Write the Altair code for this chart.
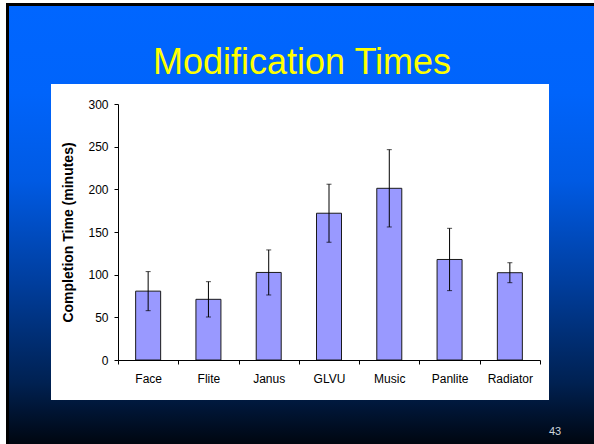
import altair as alt
import pandas as pd

# ---- data ----
programs = ["Face", "Flite", "Janus", "GLVU", "Music", "Panlite", "Radiator"]
means = [80.7, 71.1, 102.6, 172, 201.2, 117.8, 102.3]
errors = [22.9, 20.7, 26.4, 34, 45.3, 36.5, 11.7]
y_ticks = [0, 50, 100, 150, 200, 250, 300]
title_text = "Modification Times"
y_title = "Completion Time (minutes)"
slide_number = "43"

df = pd.DataFrame({
    "program": programs,
    "mean": means,
    "low": [m - e for m, e in zip(means, errors)],
    "high": [m + e for m, e in zip(means, errors)],
})

FONT = "Liberation Sans, Arial, sans-serif"
one = pd.DataFrame({"k": [0]})

# ---- slide decoration (pixel positions relative to plot origin) ----
frame = alt.Chart(one).mark_rect(fill="#000000").encode(
    x=alt.value(-112), x2=alt.value(476), y=alt.value(-101), y2=alt.value(340)
)
grad = alt.LinearGradient(
    gradient="linear",
    stops=[
        alt.GradientStop(color="#0066ff", offset=0),
        alt.GradientStop(color="#0064fb", offset=0.2),
        alt.GradientStop(color="#005ae3", offset=0.4),
        alt.GradientStop(color="#003e9e", offset=0.63),
        alt.GradientStop(color="#002152", offset=0.86),
        alt.GradientStop(color="#000610", offset=1),
    ],
    x1=0, x2=0, y1=0, y2=1,
)
slide = alt.Chart(one).mark_rect(fill=grad).encode(
    x=alt.value(-109), x2=alt.value(476), y=alt.value(-98), y2=alt.value(340)
)
panel = alt.Chart(one).mark_rect(fill="#ffffff").encode(
    x=alt.value(-67), x2=alt.value(431), y=alt.value(-20), y2=alt.value(296)
)
title = alt.Chart(pd.DataFrame({"t": [title_text]})).mark_text(
    font=FONT, fontSize=36, color="#ffff00", align="center", baseline="alphabetic"
).encode(x=alt.value(184), y=alt.value(-30), text="t:N")
num = alt.Chart(pd.DataFrame({"t": [slide_number]})).mark_text(
    font=FONT, fontSize=11, color="#d0d4dc", align="center", baseline="alphabetic"
).encode(x=alt.value(437), y=alt.value(331), text="t:N")

# ---- chart ----
xenc = alt.X(
    "program:N", sort=programs,
    scale=alt.Scale(paddingInner=0, paddingOuter=0),
    axis=alt.Axis(title=None, labelAngle=0, tickBand="extent", tickSize=4,
                  labelPadding=9, labelFontSize=12, labelFont=FONT,
                  labelColor="#000000", domainColor="#000000", tickColor="#000000",
                  zindex=2),
)
yscale = alt.Scale(domain=[0, 300], nice=False)

bars = alt.Chart(df).mark_bar(size=25, fill="#9999ff", stroke="#1a1a1a", strokeWidth=1).encode(
    x=xenc,
    y=alt.Y("mean:Q", scale=yscale,
            axis=alt.Axis(values=y_ticks, grid=False, tickSize=4, labelPadding=6,
                          labelFontSize=12, labelFont=FONT, labelColor="#000000",
                          domainColor="#000000", tickColor="#000000",
                          title=y_title, titleFont=FONT, titleFontSize=14,
                          titleFontWeight="bold", titleColor="#000000",
                          titleAngle=270, titleX=-46, titleY=128,
                          titleAlign="center", titleBaseline="alphabetic",
                          zindex=2)),
)
rules = alt.Chart(df).mark_rule(color="#000000", strokeWidth=1).encode(
    x=alt.X("program:N", sort=programs), y=alt.Y("low:Q", scale=yscale), y2="high:Q"
)
cap_lo = alt.Chart(df).mark_tick(color="#000000", size=5, thickness=1).encode(
    x=alt.X("program:N", sort=programs), y=alt.Y("low:Q", scale=yscale)
)
cap_hi = alt.Chart(df).mark_tick(color="#000000", size=5, thickness=1).encode(
    x=alt.X("program:N", sort=programs), y=alt.Y("high:Q", scale=yscale)
)

chart = alt.layer(frame, slide, panel, title, num, bars, rules, cap_lo, cap_hi).properties(
    width=422, height=256,
    autosize="none",
    padding={"left": 118, "top": 104, "right": 54, "bottom": 84},
    background="#ffffff",
).configure_view(stroke="transparent")

chart.save("out.html", embed_options={"renderer": "svg", "actions": False})
